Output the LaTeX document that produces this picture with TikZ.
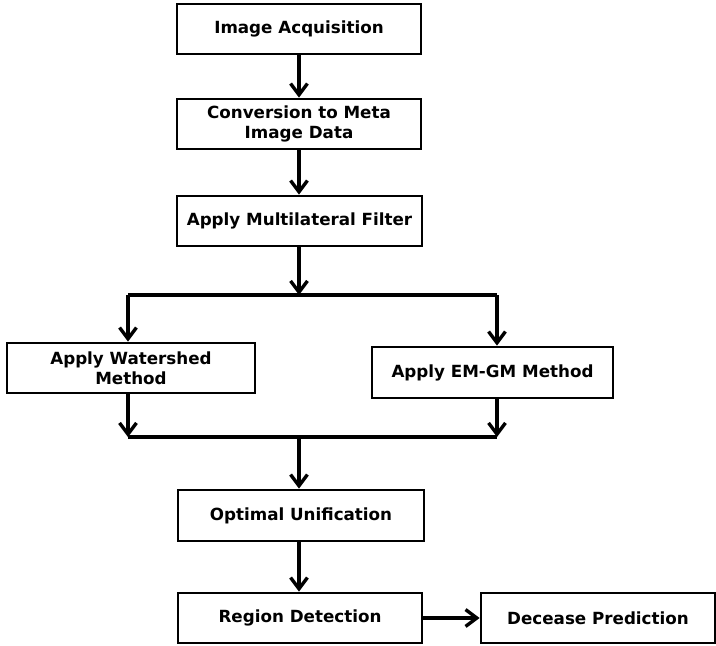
\documentclass[tikz,border=0pt]{standalone}
\usepackage{fontspec}
\setmainfont{DejaVu Sans}
\usetikzlibrary{arrows.meta}

\tikzset{
  stepbox/.style={draw, line width=2pt, minimum height=50*0.025cm, align=center,
    font=\bfseries\fontsize{11.9}{14}\selectfont, inner sep=2pt},
  flow/.style={line width=2.4pt, -{Straight Barb[length=8pt, width=12pt, line width=2.4pt]}},
  plain/.style={line width=2.4pt}
}

\begin{document}
\begin{tikzpicture}[x=0.025cm, y=-0.025cm]
    \useasboundingbox (0,0) rectangle (716,645);

    % Boxes of the main column
    \node[stepbox, minimum width=244*0.025cm] (acq) at (299,29) {Image Acquisition};
    \node[stepbox, minimum width=244*0.025cm] (conv) at (299,124) {Conversion to Meta\\Image Data};
    \node[stepbox, minimum width=245*0.025cm] (filt) at (299.5,221) {Apply Multilateral Filter};

    % The two methods side by side
    \node[stepbox, minimum width=248*0.025cm] (water) at (131,368) {Apply Watershed\\Method};
    \node[stepbox, minimum width=241*0.025cm, minimum height=51*0.025cm] (emgm) at (492.5,372.5) {Apply EM-GM Method};

    % Lower part
    \node[stepbox, minimum width=246*0.025cm, minimum height=51*0.025cm] (opt) at (301,515.5) {Optimal Unification};
    \node[stepbox, minimum width=244*0.025cm] (reg) at (300,618) {Region Detection};
    \node[stepbox, minimum width=234*0.025cm] (dec) at (598,618) {Decease Prediction};

    % Split and join points
    \coordinate (splitM) at (299,295);
    \coordinate (splitL) at (128,295);
    \coordinate (splitR) at (497,295);
    \coordinate (joinM) at (299,437);
    \coordinate (joinL) at (128,437);
    \coordinate (joinR) at (497,437);

    % Arrows
    \draw[flow] (acq.south -| splitM) -- (conv.north -| splitM);
    \draw[flow] (conv.south -| splitM) -- (filt.north -| splitM);
    \draw[flow] (filt.south -| splitM) -- (splitM);
    \draw[plain] (splitL) -- (splitR);
    \draw[flow] (splitL) -- (splitL |- water.north);
    \draw[flow] (splitR) -- (splitR |- emgm.north);
    \draw[flow] (water.south -| joinL) -- (joinL);
    \draw[flow] (emgm.south -| joinR) -- (joinR);
    \draw[plain] (joinL) -- (joinR);
    \draw[flow] (joinM) -- (opt.north -| joinM);
    \draw[flow] (opt.south -| joinM) -- (reg.north -| joinM);
    \draw[flow] (reg) -- (dec);
\end{tikzpicture}
\end{document}
